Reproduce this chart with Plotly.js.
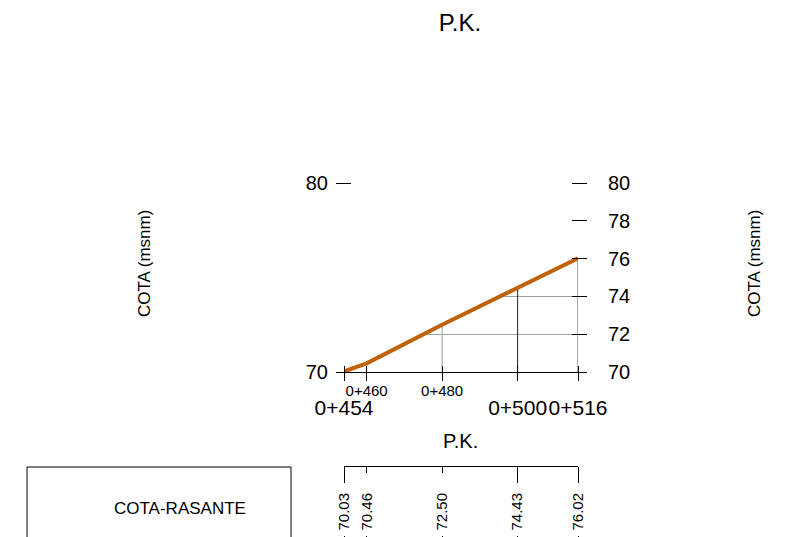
<!DOCTYPE html>
<html>
<head>
<meta charset="utf-8">
<script src="https://cdn.plot.ly/plotly-3.0.1.min.js"></script>
<style>html,body{margin:0;padding:0;background:#fff;}#chart{width:808px;height:537px;}</style>
</head>
<body>
<div id="chart"></div>
<script>
// ---- data ----
const stations = [454, 460, 480, 500, 516];
const stationLabels = ['0+454', '0+460', '0+480', '0+500', '0+516'];
const isMajor = [true, false, false, true, true];
const cotaRasante = [70.03, 70.46, 72.50, 74.43, 76.02];
const cotaLabels = ['70.03', '70.46', '72.50', '74.43', '76.02'];
const leftTicks = [70, 80];
const rightTicks = [70, 72, 74, 76, 78, 80];
const xRange = [454, 516];
const yRange = [70, 80];

// ---- styles (kept apart from the data) ----
const dropColors = ['#999999', '#aaaaaa', '#999999', '#222222', '#555555'];
const lineColor = '#C0620A';

// ---- layout helpers ----
const W = 808, H = 537;
const fx = p => p / W;
const fy = p => 1 - p / H;
const REG = 'Arial, Liberation Sans, sans-serif';
const PL = 344, PR = 578, PT = 183, PB = 372;     // plot box in pixels
const xs = (PR - PL) / (xRange[1] - xRange[0]);   // px per unit
const E = 3;                                      // pixel extension for end ticks
const mainX = [fx(PL), fx(PR)];
const mainY = [fy(PB), fy(PT)];
const extX = [fx(PL - E), fx(PR + E)];
const extXR = [xRange[0] - E / xs, xRange[1] + E / xs];
const HIDE = 'rgba(0,0,0,0)';

const majorSt = stations.filter((s, i) => isMajor[i]);
const majorLb = stationLabels.filter((s, i) => isMajor[i]);
const minorSt = stations.filter((s, i) => !isMajor[i]);
const minorLb = stationLabels.filter((s, i) => !isMajor[i]);

const traces = [
  { x: stations, y: stations.map(() => yRange[1]), mode: 'lines', line: { width: 0, color: HIDE },
    hoverinfo: 'skip', showlegend: false, xaxis: 'x', yaxis: 'y' },
  { x: stations, y: cotaRasante, mode: 'lines', fill: 'tonexty', fillcolor: '#ffffff',
    line: { width: 0, color: HIDE }, hoverinfo: 'skip', showlegend: false, xaxis: 'x', yaxis: 'y' }
];
// vertical drop lines from the base level up to the grade line
stations.forEach((s, i) => {
  if (i === 0) return;
  traces.push({ x: [s, s], y: [yRange[0], cotaRasante[i]], mode: 'lines',
    line: { color: dropColors[i], width: 1 }, hoverinfo: 'skip', showlegend: false, xaxis: 'x', yaxis: 'y' });
});
traces.push({ x: stations, y: cotaRasante, mode: 'lines', name: 'COTA-RASANTE',
  line: { color: lineColor, width: 4 }, showlegend: false, cliponaxis: false, xaxis: 'x', yaxis: 'y' });

// empty traces so every helper axis pair gets drawn
[['x2','y'],['x3','y'],['x','y2'],['x','y3'],['x','y4'],['x4','y5'],['x5','y5'],['x8','y5'],['x6','y6'],['x7','y7']]
  .forEach(p => traces.push({ x: [], y: [], mode: 'lines', showlegend: false, hoverinfo: 'skip', xaxis: p[0], yaxis: p[1] }));

const blank = { showgrid: false, zeroline: false, showline: false, ticks: '', showticklabels: false, fixedrange: true };

const layout = {
  width: W, height: H,
  margin: { l: 0, r: 0, t: 0, b: 0 },
  paper_bgcolor: '#ffffff', plot_bgcolor: 'rgba(0,0,0,0)',
  showlegend: false,
  font: { family: REG, color: '#000', size: 15 },
  title: { text: 'P.K.', font: { family: REG, size: 24, color: '#000' }, xref: 'container', yref: 'container',
           x: fx(460), xanchor: 'center', y: fy(23), yanchor: 'middle' },
  // main x axis: baseline + small station labels
  xaxis: { domain: mainX, range: xRange, anchor: 'y', tickmode: 'array', tickvals: minorSt, ticktext: minorLb,
           ticks: 'outside', ticklen: 8, tickcolor: HIDE, tickangle: 0,
           showline: true, linecolor: '#000', linewidth: 1, showgrid: false,
           zeroline: false, tickfont: { family: REG, size: 15 }, ticklabelstandoff: -3 },
  // large station labels
  xaxis2: { overlaying: 'x', anchor: 'y', range: xRange, tickmode: 'array', tickvals: majorSt, ticktext: majorLb,
            ticks: 'outside', ticklen: 8, tickcolor: HIDE, tickangle: 0, showline: false, showgrid: false,
            zeroline: false, tickfont: { family: REG, size: 21 }, ticklabelstandoff: 9 },
  // tick marks crossing the baseline
  xaxis3: Object.assign({}, blank, { overlaying: 'x', anchor: 'free', position: fy(PB - 7), side: 'bottom',
            range: xRange, tickmode: 'array', tickvals: stations, ticks: 'outside', ticklen: 15, tickcolor: '#000' }),
  yaxis: { domain: mainY, range: yRange, anchor: 'x', side: 'left', tickmode: 'array', tickvals: leftTicks,
           ticks: 'outside', ticklen: 7, tickcolor: HIDE, showline: false, showgrid: false, zeroline: false,
           tickfont: { family: REG, size: 20 }, ticklabelstandoff: 4 },
  yaxis2: { overlaying: 'y', anchor: 'x', side: 'right', range: yRange, tickmode: 'array', tickvals: rightTicks,
            ticks: 'outside', ticklen: 7, tickcolor: HIDE, showline: false, showgrid: true, gridcolor: '#a0a0a0',
            zeroline: false, tickfont: { family: REG, size: 20 }, ticklabelstandoff: 18 },
  // tick marks crossing the vertical axes
  yaxis3: Object.assign({}, blank, { overlaying: 'y', anchor: 'free', position: fx(PL + 7), side: 'left',
            range: yRange, tickmode: 'array', tickvals: leftTicks, ticks: 'outside', ticklen: 15, tickcolor: '#000' }),
  yaxis4: Object.assign({}, blank, { overlaying: 'y', anchor: 'free', position: fx(PR - 7), side: 'right',
            range: yRange, tickmode: 'array', tickvals: rightTicks, ticks: 'outside', ticklen: 15, tickcolor: '#000' }),

  // bottom table bracket
  yaxis5: Object.assign({}, blank, { domain: [0, fy(467)], range: [0, 1], anchor: 'x4' }),
  xaxis4: Object.assign({}, blank, { domain: mainX, range: xRange, anchor: 'y5', side: 'top',
            showline: true, linecolor: '#000', linewidth: 1 }),
  xaxis5: Object.assign({}, blank, { domain: extX, range: extXR, anchor: 'y5', side: 'top', tickmode: 'array',
            tickvals: majorSt, ticks: 'inside', ticklen: 16, tickcolor: '#000' }),
  xaxis8: Object.assign({}, blank, { domain: extX, range: extXR, anchor: 'y5', side: 'top', tickmode: 'array',
            tickvals: minorSt, ticks: 'inside', ticklen: 6, tickcolor: '#000' }),
  yaxis6: Object.assign({}, blank, { domain: [fy(489), fy(470)], range: [0, 1], anchor: 'x6' }),
  xaxis6: { domain: mainX, range: xRange, anchor: 'y6', side: 'bottom', tickmode: 'array', tickvals: stations,
            ticktext: cotaLabels, tickangle: -90, ticks: '', showline: false, showgrid: false, zeroline: false,
            tickfont: { family: REG, size: 15 }, ticklabelstandoff: 0 },
  yaxis7: Object.assign({}, blank, { domain: [fy(535), fy(520)], range: [0, 1], anchor: 'x7' }),
  xaxis7: Object.assign({}, blank, { domain: extX, range: extXR, anchor: 'y7', side: 'bottom', tickmode: 'array',
            tickvals: stations, ticks: 'outside', ticklen: 6, tickcolor: '#000' }),

  shapes: [
    { type: 'rect', xref: 'paper', yref: 'paper', x0: fx(27), x1: fx(291), y0: fy(467), y1: fy(600),
      line: { color: '#000', width: 1 }, fillcolor: 'rgba(0,0,0,0)' }
  ],
  annotations: [
    { text: 'P.K.', xref: 'paper', yref: 'paper', x: fx(461), y: fy(441), xanchor: 'center', yanchor: 'middle',
      showarrow: false, font: { family: REG, size: 20 } },
    { text: 'COTA (msnm)', xref: 'paper', yref: 'paper', x: fx(145), y: fy(264), xanchor: 'center', yanchor: 'middle',
      textangle: -90, showarrow: false, font: { family: REG, size: 17 } },
    { text: 'COTA (msnm)', xref: 'paper', yref: 'paper', x: fx(755), y: fy(264), xanchor: 'center', yanchor: 'middle',
      textangle: -90, showarrow: false, font: { family: REG, size: 17 } },
    { text: 'COTA-RASANTE', xref: 'paper', yref: 'paper', x: fx(180), y: fy(508), xanchor: 'center', yanchor: 'middle',
      showarrow: false, font: { family: REG, size: 17 } }
  ]
};

Plotly.newPlot('chart', traces, layout, { staticPlot: true, displayModeBar: false });
</script>
</body>
</html>
